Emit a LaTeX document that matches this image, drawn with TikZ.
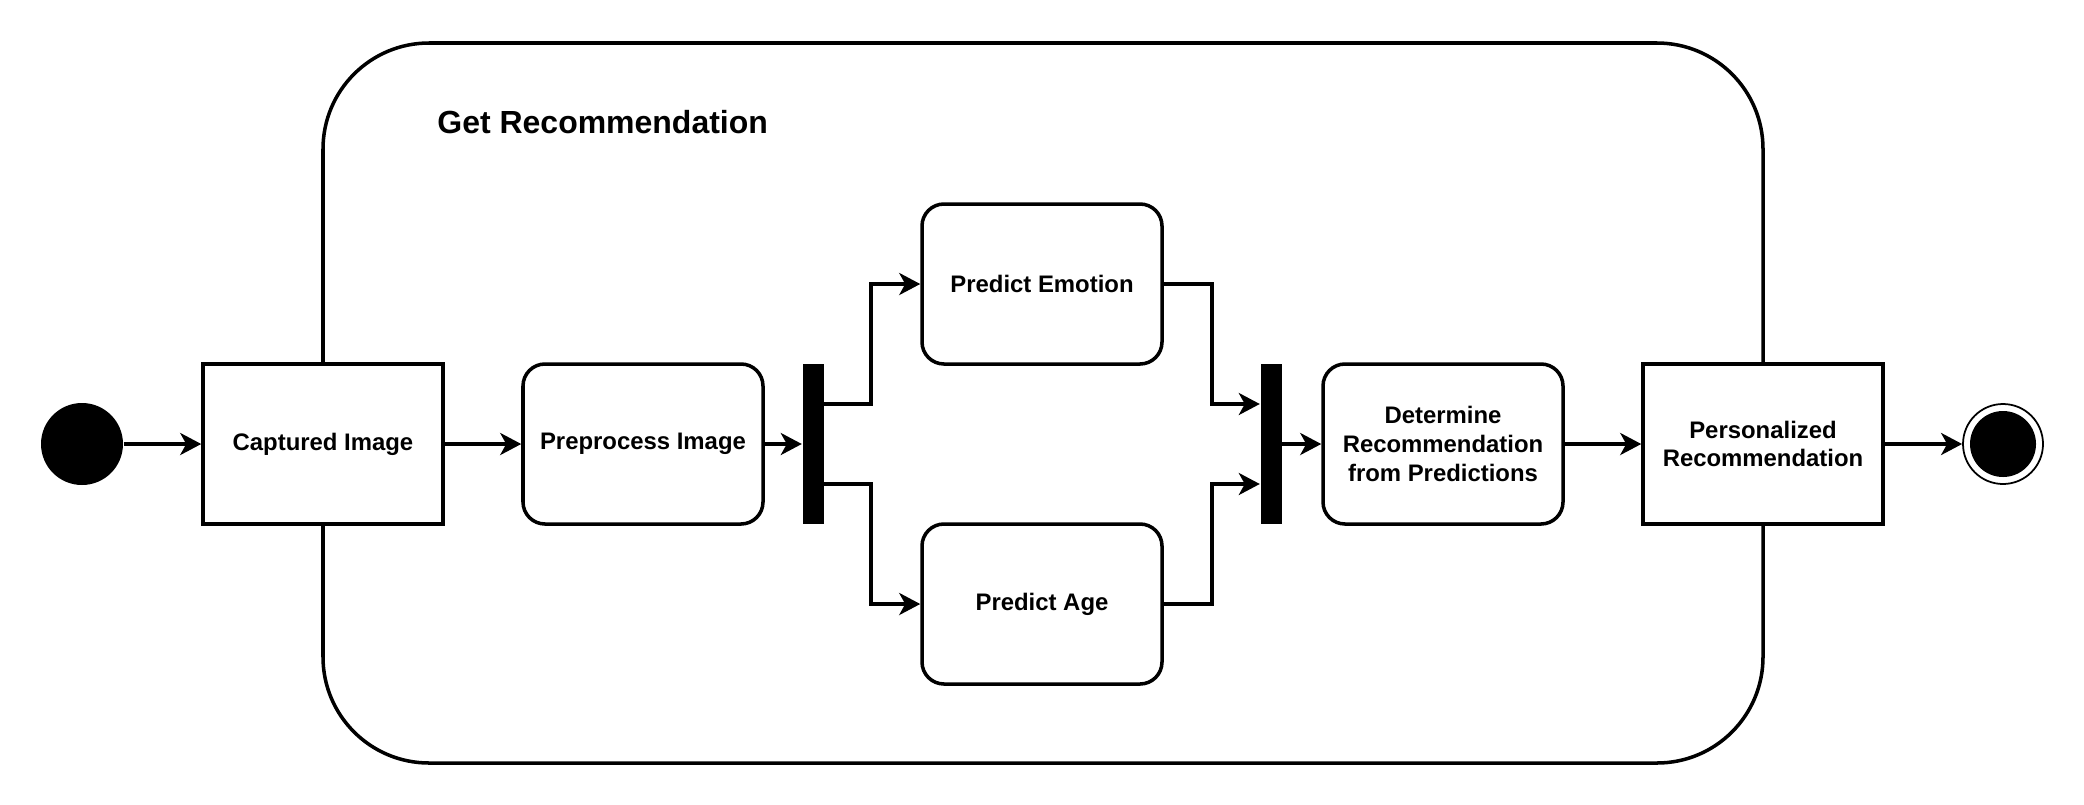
\documentclass[tikz,border=0pt]{standalone}
\usepackage{fontspec}
\setmainfont{Liberation Sans}
\usetikzlibrary{arrows.meta}

\tikzset{
  flow/.style={line width=1pt, -{Stealth[length=0.21cm, width=0.22cm, inset=0.06cm]}},
  objbox/.style={draw, line width=1pt, fill=white, minimum width=2.4cm, minimum height=1.6cm,
    align=center, font=\fontsize{6.8}{8.2}\selectfont\bfseries},
  actbox/.style={objbox, rounded corners=0.22cm},
  syncbar/.style={fill=black, inner sep=0pt, minimum width=0.21cm, minimum height=1.6cm},
}

\begin{document}
\begin{tikzpicture}
  \useasboundingbox (0,0) rectangle (20.84,8.04);

  % Draw the activity frame first, boxes cover its sides
  \draw[line width=1pt, rounded corners=1.06cm] (3.23,0.41) rectangle (17.63,7.61);
  \node[right, font=\fontsize{9.1}{11}\selectfont\bfseries] (title) at (4.25,6.82) {Get Recommendation};

  % Start and end points
  \node[circle, fill=black, minimum size=0.82cm, inner sep=0pt] (start) at (0.82,3.6) {};
  \node[circle, draw, line width=0.5pt, minimum size=0.8cm, inner sep=0pt] (stop) at (20.03,3.6) {};
  \fill[black] (stop.center) circle (0.33);

  % Objects and actions
  \node[objbox] (captured) at (3.23,3.6) {Captured Image};
  \node[actbox] (prep) at (6.43,3.6) {Preprocess Image};
  \node[syncbar] (fork) at (8.13,3.6) {};
  \node[actbox] (emotion) at (10.42,5.2) {Predict Emotion};
  \node[actbox] (age) at (10.42,2.0) {Predict Age};
  \node[syncbar] (join) at (12.71,3.6) {};
  \node[actbox] (decide) at (14.43,3.6) {Determine\\Recommendation\\from Predictions};
  \node[objbox] (result) at (17.63,3.6) {Personalized\\Recommendation};

  % Connectors
  \draw[flow] (start) -- (captured);
  \draw[flow] (captured) -- (prep);
  \draw[flow] (prep) -- (fork);
  \draw[flow] ([yshift=4mm]fork.east) -- ++(0.47,0) |- (emotion.west);
  \draw[flow] ([yshift=-4mm]fork.east) -- ++(0.47,0) |- (age.west);
  \draw[flow] (emotion.east) -- ++(0.48,0) |- ([yshift=4mm]join.west);
  \draw[flow] (age.east) -- ++(0.48,0) |- ([yshift=-4mm]join.west);
  \draw[flow] (join) -- (decide);
  \draw[flow] (decide) -- (result);
  \draw[flow] (result) -- (stop);
\end{tikzpicture}
\end{document}
